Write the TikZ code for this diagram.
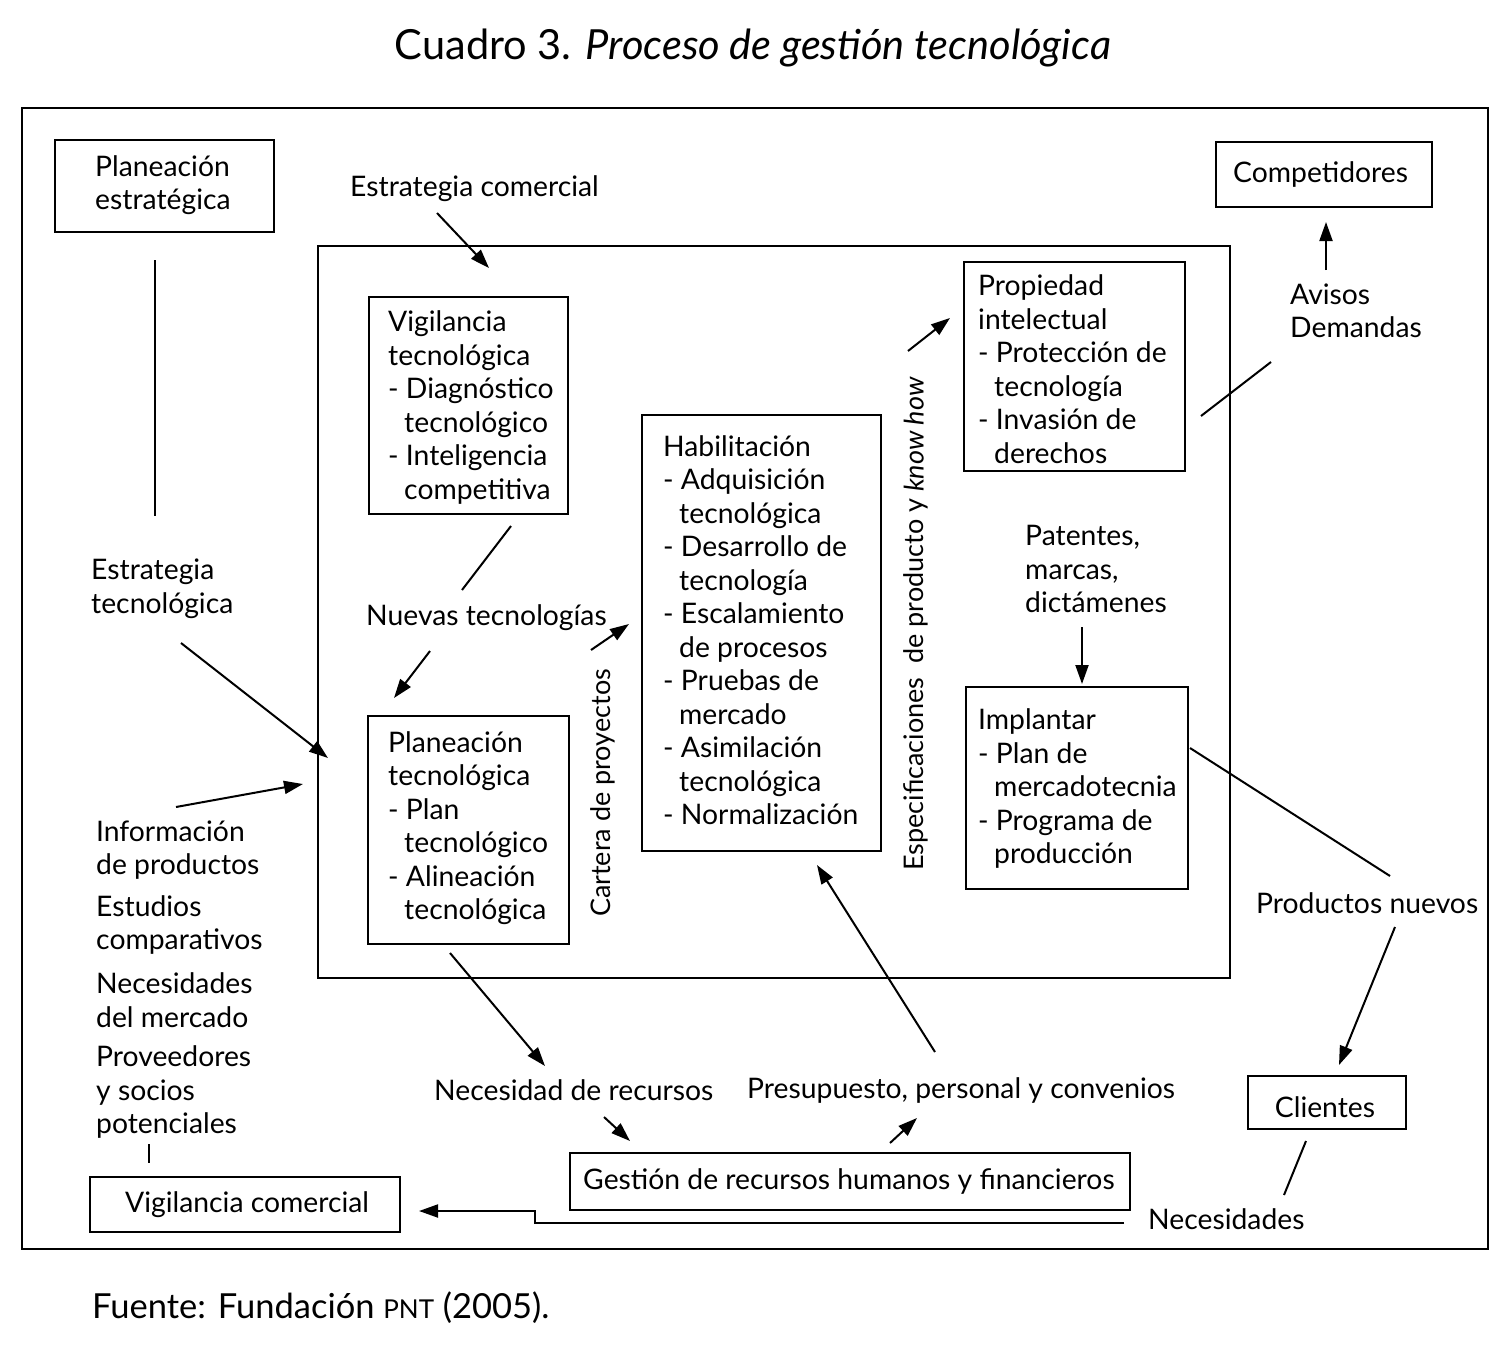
\documentclass[tikz,border=0pt]{standalone}
\usepackage{fontspec}
\setmainfont{Lato}
\usetikzlibrary{arrows.meta}
\newcommand\hi{\hspace*{16pt}}
\begin{document}
\begin{tikzpicture}[x=1pt,y=-1pt,
  txt/.style={anchor=west, align=left, inner sep=0pt, yshift=-1.5pt, font=\fontsize{28.3}{33.5}\selectfont},
  rtxt/.style={anchor=center, rotate=90, inner sep=0pt, font=\fontsize{27}{32}\selectfont},
  box/.style={draw, line width=2.2pt, anchor=north west, inner sep=0pt},
  frame/.style={draw, line width=2pt, anchor=north west, inner sep=0pt},
  ln/.style={line width=2pt},
  arr/.style={line width=2pt, -{Triangle[length=19pt,width=13pt]}}]
\useasboundingbox[fill=white] (0,0) rectangle (1510,1360);

% frames
\node[frame, minimum width=1466pt, minimum height=1141pt] (outer) at (21,107) {};
\node[frame, minimum width=912pt, minimum height=732pt] (inner) at (317,245) {};

% title and footer
\node[inner sep=0pt, font=\fontsize{41.5}{48}\selectfont] (title) at (753,48) {Cuadro 3. \textit{Proceso de gestión tecnológica}};
\node[inner sep=0pt, anchor=west, font=\fontsize{34.5}{40}\selectfont] (foot) at (92,1308) {Fuente: Fundación {\fontsize{26}{30}\selectfont PNT} (2005).};

% boxes
\node[box, minimum width=219pt, minimum height=92pt] (pe) at (54,139) {};
\node[box, minimum width=216pt, minimum height=65pt] (comp) at (1215,141) {};
\node[box, minimum width=199pt, minimum height=217pt] (vig) at (368,296) {};
\node[box, minimum width=239pt, minimum height=436pt] (hab) at (641,414) {};
\node[box, minimum width=221pt, minimum height=209pt] (prop) at (963,261) {};
\node[box, minimum width=222pt, minimum height=202pt] (impl) at (965,686) {};
\node[box, minimum width=201pt, minimum height=228pt] (ptec) at (367,715) {};
\node[box, minimum width=158pt, minimum height=53pt] (cli) at (1247,1075) {};
\node[box, minimum width=560pt, minimum height=57pt] (gest) at (569,1152) {};
\node[box, minimum width=310pt, minimum height=55pt] (vcom) at (89,1176) {};

% box texts
\node[txt] (tpe) at (95,183.5) {Planeación\\estratégica};
\node[txt] (tcomp) at (1233,173) {Competidores};
\node[txt] (tvig) at (388,406) {Vigilancia\\tecnológica\\- Diagnóstico\\\hi tecnológico\\- Inteligencia\\\hi competitiva};
\node[txt] (thab) at (663,628.5) {Habilitación\\- Adquisición\\\hi tecnológica\\- Desarrollo de\\\hi tecnología\\- Escalamiento\\\hi de procesos\\- Pruebas de\\\hi mercado\\- Asimilación\\\hi tecnológica\\- Normalización};
\node[txt] (tprop) at (978,367.5) {Propiedad\\intelectual\\- Protección de\\\hi tecnología\\- Invasión de\\\hi derechos};
\node[txt] (timpl) at (978,787) {Implantar\\- Plan de\\\hi mercadotecnia\\- Programa de\\\hi producción};
\node[txt] (tptec) at (388,826.5) {Planeación\\tecnológica\\- Plan\\\hi tecnológico\\- Alineación\\\hi tecnológica};
\node[txt, anchor=center] (tcli) at (1325,1106) {Clientes};
\node[txt] (tgest) at (583,1180) {Gestión de recursos humanos y financieros};
\node[txt] (tvcom) at (125,1203) {Vigilancia comercial};

% free labels
\node[txt] (lec) at (350,187) {Estrategia comercial};
\node[txt] (lav) at (1290,309.5) {Avisos\\Demandas};
\node[txt] (let) at (91,587.5) {Estrategia\\tecnológica};
\node[txt] (lnt) at (366,616) {Nuevas tecnologías};
\node[txt] (linf) at (96,848.5) {Información\\de productos};
\node[txt] (lest) at (96,923.5) {Estudios\\comparativos};
\node[txt] (lnec) at (96,998.5) {Necesidades\\del mercado};
\node[txt] (lprov) at (96,1090.5) {Proveedores\\y socios\\potenciales};
\node[txt] (lpat) at (1025,567.5) {Patentes,\\marcas,\\dictámenes};
\node[txt] (lpn) at (1256,902) {Productos nuevos};
\node[txt] (lnr) at (434,1089) {Necesidad de recursos};
\node[txt] (lpp) at (747,1089) {Presupuesto, personal y convenios};
\node[txt] (lnecs) at (1148,1218) {Necesidades};
\node[rtxt] (lcart) at (603,793) {Cartera de proyectos};
\node[rtxt] (lesp) at (916,624) {Especificaciones\ \ de producto y \textit{know how}};

% connector end points
\coordinate (c1a) at (155,260);  \coordinate (c1b) at (155,516);
\coordinate (c2a) at (437,213);  \coordinate (c2b) at (489,268);
\coordinate (c3a) at (181,643);  \coordinate (c3b) at (328,758);
\coordinate (c4a) at (176,807);  \coordinate (c4b) at (303,784);
\coordinate (c5a) at (511,526);  \coordinate (c5b) at (462,590);
\coordinate (c6a) at (430,651);  \coordinate (c6b) at (394,698);
\coordinate (c7a) at (591,650);  \coordinate (c7b) at (629,624);
\coordinate (c8a) at (908,351);  \coordinate (c8b) at (950,318);
\coordinate (c9a) at (1201,416); \coordinate (c9b) at (1271,362);
\coordinate (c10a) at (1326,270); \coordinate (c10b) at (1326,222);
\coordinate (c11a) at (1082,627); \coordinate (c11b) at (1082,684);
\coordinate (c12a) at (1190,748); \coordinate (c12b) at (1390,876);
\coordinate (c13a) at (1395,927); \coordinate (c13b) at (1339,1065);
\coordinate (c14a) at (450,953);  \coordinate (c14b) at (545,1066);
\coordinate (c15a) at (604,1117); \coordinate (c15b) at (630,1141);
\coordinate (c16a) at (890,1143); \coordinate (c16b) at (917,1118);
\coordinate (c17a) at (935,1052); \coordinate (c17b) at (817,865);
\coordinate (c18a) at (1306,1141); \coordinate (c18b) at (1284,1195);
\coordinate (c19a) at (149,1144); \coordinate (c19b) at (149,1163);
\coordinate (c20a) at (1124,1223); \coordinate (c20s) at (535,1223);
\coordinate (c20t) at (535,1211); \coordinate (c20b) at (419,1211);

% connectors
\draw[ln] (c1a) -- (c1b);
\draw[arr] (c2a) -- (c2b);
\draw[arr] (c3a) -- (c3b);
\draw[arr] (c4a) -- (c4b);
\draw[ln] (c5a) -- (c5b);
\draw[arr] (c6a) -- (c6b);
\draw[arr] (c7a) -- (c7b);
\draw[arr] (c8a) -- (c8b);
\draw[ln] (c9a) -- (c9b);
\draw[arr] (c10a) -- (c10b);
\draw[arr] (c11a) -- (c11b);
\draw[ln] (c12a) -- (c12b);
\draw[arr] (c13a) -- (c13b);
\draw[arr] (c14a) -- (c14b);
\draw[arr] (c15a) -- (c15b);
\draw[arr] (c16a) -- (c16b);
\draw[arr] (c17a) -- (c17b);
\draw[ln] (c18a) -- (c18b);
\draw[ln] (c19a) -- (c19b);
\draw[arr] (c20a) -- (c20s) -- (c20t) -- (c20b);
\end{tikzpicture}
\end{document}
